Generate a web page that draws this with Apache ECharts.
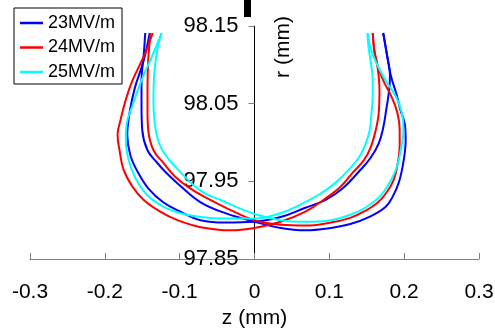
<!DOCTYPE html>
<html>
<head>
<meta charset="utf-8">
<script src="https://cdn.jsdelivr.net/npm/echarts@6/dist/echarts.min.js"></script>
<style>
  html, body { margin: 0; padding: 0; background: #fff; }
  #chart { width: 495px; height: 335px; }
</style>
</head>
<body>
<div id="chart"></div>
<script>
// z (mm), r (mm); each gradient has two crossing U-shaped tracks
const names = ['23MV/m', '24MV/m', '25MV/m'];
const colors = ['#0000ff', '#ff0000', '#00ffff'];

const zTicks = [-0.3, -0.2, -0.1, 0, 0.1, 0.2, 0.3];
const rTicks = [97.85, 97.95, 98.05, 98.15];

// track starting on the wide left side, ending on the narrow right side
const g23Left = [
  [-0.140, 98.141], [-0.148, 98.106], [-0.160, 98.070], [-0.167, 98.038], [-0.170, 98.010],
  [-0.166, 97.984], [-0.156, 97.962], [-0.142, 97.941], [-0.122, 97.923], [-0.099, 97.911],
  [-0.072, 97.900], [-0.039, 97.897], [0, 97.898], [0.035, 97.904], [0.068, 97.916],
  [0.095, 97.926], [0.118, 97.941], [0.139, 97.962], [0.155, 97.980], [0.166, 97.999],
  [0.172, 98.019], [0.176, 98.042], [0.180, 98.068], [0.181, 98.087], [0.177, 98.113],
  [0.172, 98.141]
];
// track starting on the narrow left side, ending on the wide right side
const g23Right = [
  [-0.146, 98.141], [-0.148, 98.113], [-0.151, 98.080], [-0.151, 98.048], [-0.150, 98.016],
  [-0.143, 97.990], [-0.131, 97.975], [-0.119, 97.962], [-0.099, 97.944], [-0.072, 97.923],
  [-0.039, 97.909], [0, 97.898], [0.035, 97.890], [0.068, 97.887], [0.102, 97.890],
  [0.128, 97.895], [0.155, 97.905], [0.175, 97.917], [0.184, 97.929], [0.193, 97.949],
  [0.199, 97.975], [0.202, 98.003], [0.201, 98.023], [0.195, 98.042], [0.190, 98.061],
  [0.182, 98.087], [0.177, 98.113], [0.172, 98.141]
];

const g24Left = [
  [-0.136, 98.141], [-0.147, 98.113], [-0.163, 98.080], [-0.172, 98.055], [-0.179, 98.029],
  [-0.183, 98.010], [-0.180, 97.988], [-0.175, 97.965], [-0.163, 97.943], [-0.148, 97.926],
  [-0.126, 97.911], [-0.103, 97.900], [-0.072, 97.891], [-0.032, 97.887], [0, 97.890],
  [0.035, 97.898], [0.068, 97.911], [0.092, 97.926], [0.115, 97.943], [0.131, 97.961],
  [0.146, 97.977], [0.155, 97.993], [0.162, 98.016], [0.166, 98.038], [0.167, 98.068],
  [0.164, 98.100], [0.160, 98.119], [0.158, 98.141]
];
const g24Right = [
  [-0.139, 98.141], [-0.142, 98.106], [-0.143, 98.068], [-0.143, 98.042], [-0.142, 98.016],
  [-0.135, 97.990], [-0.122, 97.974], [-0.106, 97.956], [-0.086, 97.941], [-0.059, 97.926],
  [-0.032, 97.913], [0, 97.900], [0.035, 97.894], [0.068, 97.893], [0.102, 97.897],
  [0.128, 97.903], [0.148, 97.912], [0.164, 97.922], [0.176, 97.935], [0.186, 97.952],
  [0.191, 97.971], [0.194, 97.997], [0.194, 98.016], [0.191, 98.038], [0.183, 98.059],
  [0.172, 98.080], [0.164, 98.100], [0.160, 98.119], [0.158, 98.141]
];

const g25Left = [
  [-0.124, 98.141], [-0.136, 98.113], [-0.151, 98.080], [-0.163, 98.048], [-0.171, 98.023],
  [-0.172, 98.003], [-0.168, 97.977], [-0.159, 97.954], [-0.143, 97.932], [-0.123, 97.918],
  [-0.099, 97.909], [-0.072, 97.904], [-0.039, 97.902], [0, 97.902], [0.035, 97.909],
  [0.061, 97.920], [0.088, 97.934], [0.108, 97.948], [0.126, 97.965], [0.139, 97.980],
  [0.148, 97.997], [0.154, 98.016], [0.156, 98.035], [0.158, 98.061], [0.158, 98.080],
  [0.155, 98.106], [0.152, 98.126], [0.151, 98.141]
];
const g25Right = [
  [-0.124, 98.141], [-0.130, 98.119], [-0.134, 98.087], [-0.135, 98.055], [-0.132, 98.016],
  [-0.123, 97.990], [-0.102, 97.965], [-0.072, 97.938], [-0.043, 97.925], [0, 97.908],
  [0.035, 97.900], [0.068, 97.898], [0.102, 97.900], [0.128, 97.907], [0.148, 97.916],
  [0.166, 97.929], [0.178, 97.944], [0.189, 97.965], [0.195, 97.988], [0.199, 98.016],
  [0.197, 98.038], [0.189, 98.059], [0.175, 98.080], [0.162, 98.104], [0.155, 98.122],
  [0.151, 98.141]
];

const tracks = [
  [g23Left, g23Right],
  [g24Left, g24Right],
  [g25Left, g25Right]
];

const font = '"Liberation Sans", Arial, sans-serif';

const series = [];
tracks.forEach((pair, i) => {
  pair.forEach((pts) => {
    series.push({
      name: names[i],
      type: 'line',
      data: pts,
      symbol: 'none',
      smooth: 0.4,
      lineStyle: { color: colors[i], width: 2 },
      itemStyle: { color: colors[i] },
      emphasis: { disabled: true }
    });
  });
});

// grid spans x 30..479; the r axis sits at z = 0, i.e. half way across the grid
const gridLeft = 30;
const gridRight = 16;
const zeroShift = (495 - gridLeft - gridRight) / 2;

const chart = echarts.init(document.getElementById('chart'));
chart.setOption({
  animation: false,
  backgroundColor: '#ffffff',
  grid: {
    left: gridLeft, right: gridRight, top: 26, bottom: 76,
    containLabel: false,
    outerBoundsMode: 'none'
  },
  legend: {
    data: names,
    orient: 'vertical',
    left: 14,
    top: 8,
    padding: [6, 7, 3, 6],
    itemGap: 6.5,
    itemWidth: 23,
    itemHeight: 2.5,
    icon: 'rect',
    backgroundColor: '#ffffff',
    borderColor: '#000000',
    borderWidth: 1,
    borderRadius: 0,
    selectedMode: false,
    textStyle: { fontFamily: font, fontSize: 18, color: '#000' }
  },
  xAxis: {
    type: 'value',
    min: -0.3,
    max: 0.3,
    name: 'z (mm)',
    nameLocation: 'middle',
    nameGap: 44,
    nameTextStyle: { fontFamily: font, fontSize: 21, color: '#000' },
    axisLine: { onZero: false, lineStyle: { color: '#808080', width: 1 } },
    axisTick: { inside: true, length: 6, customValues: zTicks, lineStyle: { color: '#808080' } },
    axisLabel: {
      customValues: zTicks,
      margin: 23,
      fontFamily: font,
      fontSize: 21,
      color: '#000',
      formatter: (v) => String(Math.round(v * 10) / 10)
    },
    splitLine: { show: false }
  },
  yAxis: {
    type: 'value',
    min: 97.85,
    max: 98.15,
    position: 'left',
    offset: -zeroShift,
    axisLine: { onZero: false, lineStyle: { color: '#000', width: 1 } },
    axisTick: { inside: false, length: 6, customValues: rTicks, lineStyle: { color: '#808080' } },
    axisLabel: {
      customValues: rTicks,
      margin: 16,
      fontFamily: font,
      fontSize: 22,
      color: '#000',
      formatter: (v) => v.toFixed(2)
    },
    splitLine: { show: false }
  },
  graphic: [
    {
      type: 'rect',
      shape: { x: 244, y: 0, width: 7, height: 17 },
      style: { fill: '#000' }
    },
    {
      type: 'text',
      x: 283,
      y: 47,
      rotation: Math.PI / 2,
      style: {
        text: 'r (mm)',
        align: 'center',
        verticalAlign: 'middle',
        font: '21px ' + font,
        fill: '#000'
      }
    }
  ],
  series: series
});
</script>
</body>
</html>
